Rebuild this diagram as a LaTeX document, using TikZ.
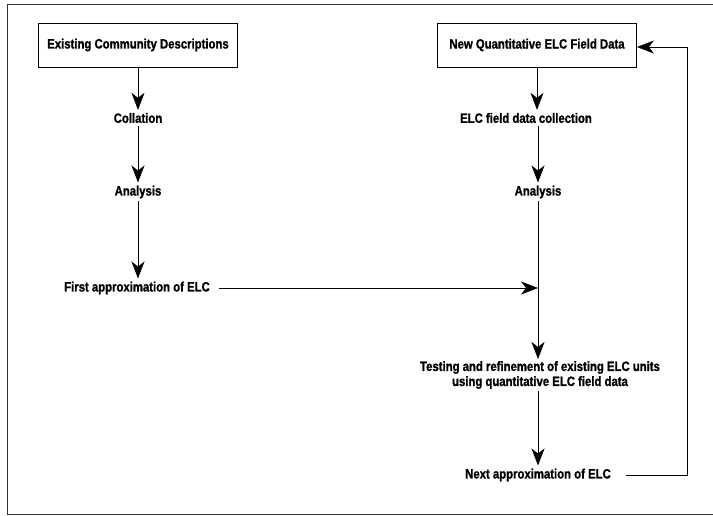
\documentclass[tikz,border=0pt]{standalone}
\usepackage{fontspec}
\setmainfont{Liberation Sans}[FakeStretch=0.84, BoldFeatures={FakeBold=1.2}]
\usetikzlibrary{arrows.meta}
\tikzset{
  lbl/.style={font=\bfseries\fontsize{13.5}{15}\selectfont, inner sep=3pt, align=center},
  srcbox/.style={lbl, draw, line width=0.8pt, minimum width=199pt, minimum height=44pt},
  flow/.style={draw, line width=0.7pt, -{Stealth[length=17pt,width=13pt,inset=5pt]}},
  plain/.style={draw, line width=0.7pt},
  frame/.style={draw, line width=0.9pt, black!80}
}
\begin{document}
\begin{tikzpicture}[x=1pt,y=-1pt]
\useasboundingbox (0,0) rectangle (713,516);
% outer frame
\draw[frame] (713,4) -- (7,4) -- (7,514) -- (713,514);

% left column
\node[srcbox] (ecd) at (138,45) {Existing Community Descriptions};
\node[lbl] (col) at (138,118) {Collation};
\node[lbl] (ana1) at (138,192) {Analysis};
\node[lbl] (first) at (137,288) {First approximation of ELC};

% right column
\node[srcbox] (nqd) at (537,45) {New Quantitative ELC Field Data};
\node[lbl] (fdc) at (526,118) {ELC field data collection};
\node[lbl] (ana2) at (538,192) {Analysis};
\coordinate (join) at (538,288);
\node[lbl, inner sep=2pt] (test) at (540,375) {Testing and refinement of existing ELC units\\using quantitative ELC field data};
\node[lbl] (next) at (538,475) {Next approximation of ELC};
\coordinate (loopA) at (687,475);
\coordinate (loopB) at (687,47);

% connectors
\path[flow] (ecd.south) -- (col.north);
\path[flow] (col.south) -- (ana1.north);
\path[flow] (ana1.south) -- (first.north -| ana1.south);
\path[flow] (nqd.south) -- (nqd.south |- fdc.north);
\path[flow] (fdc.south -| ana2.north) -- (ana2.north);
\path[flow] ([xshift=6pt]first.east) -- (join);
\path[flow] (ana2.south) -- (ana2.south |- test.north);
\path[flow] (test.south -| next.north) -- (next.north);
\path[plain] ([xshift=12pt]next.east) -- (loopA) -- (loopB);
\path[flow] (loopB) -- (loopB -| nqd.east);
\end{tikzpicture}
\end{document}
